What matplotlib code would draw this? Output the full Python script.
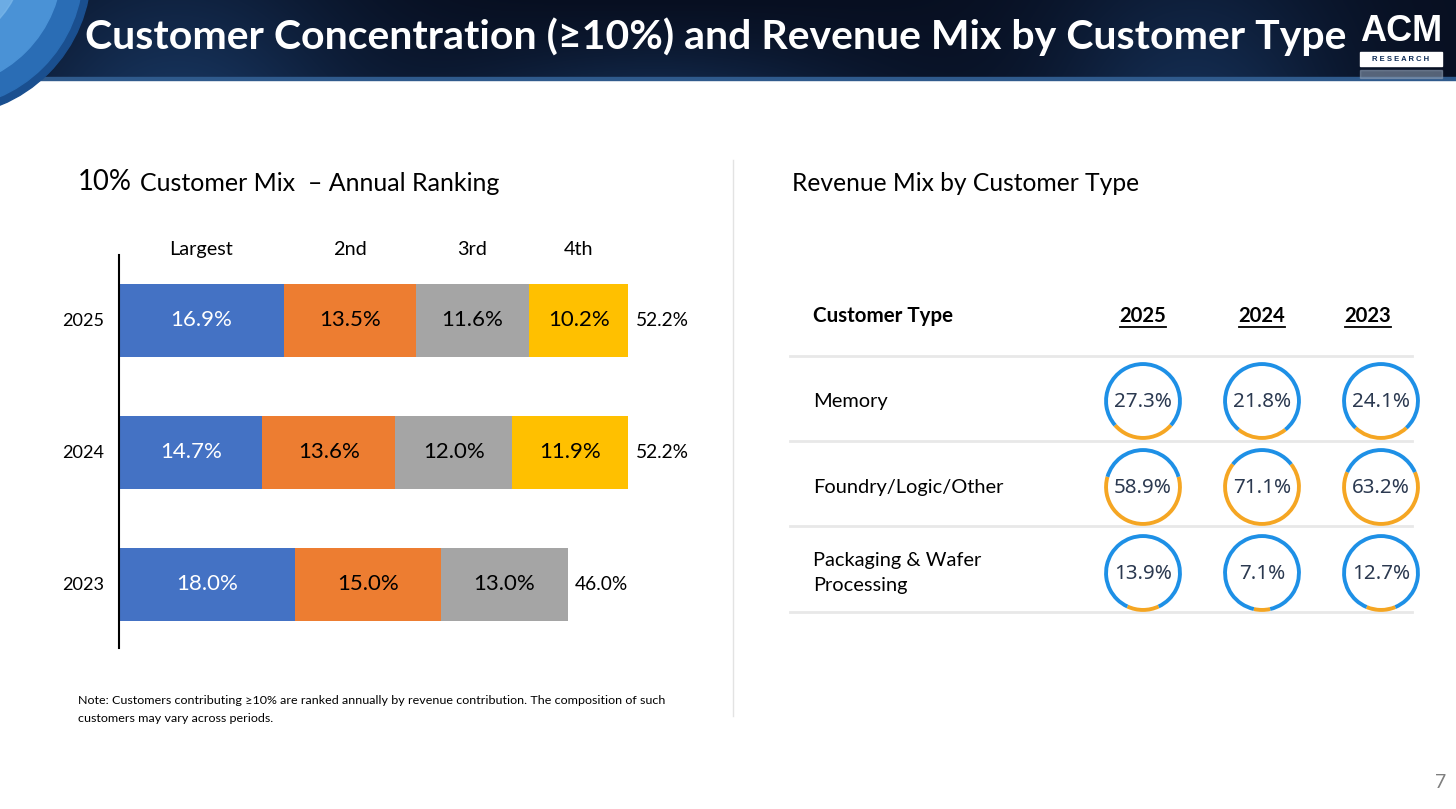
import matplotlib
matplotlib.use('Agg')
import matplotlib.pyplot as plt
import numpy as np
from matplotlib.patches import Circle, Rectangle

# ---------------- data ----------------
years = ['2025', '2024', '2023']
rank_labels = ['Largest', '2nd', '3rd', '4th']
largest = [16.9, 14.7, 18.0]
second = [13.5, 13.6, 15.0]
third = [11.6, 12.0, 13.0]
fourth = [10.2, 11.9, 0.0]
totals = [52.2, 52.2, 46.0]

cust_types = ['Memory', 'Foundry/Logic/Other', 'Packaging & Wafer\nProcessing']
table_years = ['2025', '2024', '2023']
memory = [27.3, 21.8, 24.1]
foundry = [58.9, 71.1, 63.2]
packaging = [13.9, 7.1, 12.7]

title = 'Customer Concentration (≥10%) and Revenue Mix by Customer Type'
note1 = 'Note: Customers contributing ≥10% are ranked annually by revenue contribution. The composition of such'
note2 = 'customers may vary across periods.'

# ---------------- style ----------------
FONT = ['Lato', 'DejaVu Sans']
FONT2 = ['Noto Sans', 'DejaVu Sans']
seg_colors = ['#4472C4', '#ED7D31', '#A5A5A5', '#FFC000']
seg_text = ['white', 'black', 'black', 'black']
ring_blue = '#1E90E6'
ring_orange = '#F5A623'

W, H = 1456, 809
fig = plt.figure(figsize=(W / 100, H / 100), dpi=100)
bg = fig.add_axes([0, 0, 1, 1])
bg.set_xlim(0, W)
bg.set_ylim(H, 0)
bg.axis('off')
r = fig.canvas.get_renderer()


def fit(s, target, family=FONT, weight='normal', base=20):
    t = bg.text(0, 0, s, fontsize=base, family=family, fontweight=weight)
    w = t.get_window_extent(renderer=r).width
    t.remove()
    return base * target / w


# header banner (smooth gradient decoration)
xs = np.linspace(0, 1, 400)
ys = np.linspace(0, 1, 40)
X, Y = np.meshgrid(xs, ys)
glow = 0.55 * np.exp(-((X - 0.12) / 0.12) ** 2) + 0.45 * np.exp(-((X - 0.82) / 0.1) ** 2) \
    + 0.35 * np.exp(-((X - 0.45) / 0.15) ** 2) * Y
glow = glow * (0.6 + 0.4 * Y)
c0 = np.array([0.03, 0.06, 0.13])
c1 = np.array([0.13, 0.30, 0.52])
img = c0[None, None, :] + (c1 - c0)[None, None, :] * np.clip(glow, 0, 1)[:, :, None]
bg.imshow(img, extent=(0, W, 80, 0), aspect='auto', zorder=0, interpolation='bilinear')
bg.add_patch(Rectangle((0, 77), W, 3, color='#2f5a8c', zorder=1))

# globe at top-left
bg.add_patch(Circle((-55, -30), 146, color='#1a4f8f', zorder=2))
bg.add_patch(Circle((-55, -30), 138, color='#2a6db5', zorder=2))
bg.add_patch(Circle((-62, -36), 124, color='#4a92d6', zorder=2))
bg.add_patch(Circle((-75, -48), 100, color='#7bb8ea', alpha=0.7, zorder=2))

# title
t = bg.text(85, 37, title, color='white', fontsize=fit(title, 1262, weight='bold'),
            fontweight='bold', family=FONT, ha='left', va='center', zorder=5)

# logo
LOGOF = ['Liberation Sans Narrow', 'Liberation Sans', 'DejaVu Sans']
bg.text(1401, 31, 'ACM', color='white', fontsize=fit('ACM', 82, LOGOF, 'bold'),
        fontweight='bold', family=LOGOF, ha='center', va='center', zorder=5)
bg.add_patch(Rectangle((1360, 52), 82, 14, color='white', zorder=5))
bg.text(1401, 59.5, 'R E S E A R C H', color='#0b2a55', fontsize=5.5, fontweight='bold',
        family=['Liberation Sans', 'DejaVu Sans'], ha='center', va='center', zorder=6)
bg.add_patch(Rectangle((1360, 70), 82, 8, color='#8a9ab0', alpha=0.6, zorder=5))

# section headings
bg.text(78, 182, '10%', fontsize=fit('10%', 54), family=FONT, ha='left', va='center',
        color='black')
s1 = 'Customer Mix  – Annual Ranking'
bg.text(140, 183, s1, fontsize=fit(s1, 362), family=FONT, ha='left', va='center', color='black')
s2 = 'Revenue Mix by Customer Type'
bg.text(792, 183, s2, fontsize=fit(s2, 348), family=FONT, ha='left', va='center', color='black')

# separator
bg.plot([733, 733], [160, 716], color='#e3e3e3', lw=1)

# note
nsize = fit(note1, 586)
bg.text(78, 701, note1, fontsize=nsize, family=FONT, ha='left', va='center', color='black')
bg.text(78, 718, note2, fontsize=nsize, family=FONT, ha='left', va='center', color='black')

# page number
bg.text(1441, 783, '7', fontsize=14, family=FONT, ha='center', va='center', color='#7f7f7f')

# ---------------- bar chart ----------------
px_per_pct = 9.76
ax_w = 600
ax = fig.add_axes([119 / W, 1 - 648 / H, ax_w / W, 393 / H])
ax.set_xlim(0, ax_w / px_per_pct)
ax.set_ylim(-64 / 132, 2 + 65 / 132)
ypos = [2, 1, 0]
series = [largest, second, third, fourth]
vsize = fit('14.7%', 62)
hsize = fit('Largest', 64)
tsize = fit('52.2%', 53)
ysize = fit('2024', 42)
left = [0.0, 0.0, 0.0]
for si, vals in enumerate(series):
    for yi, v in enumerate(vals):
        if v <= 0:
            continue
        ax.barh(ypos[yi], v, left=left[yi], height=73 / 132, color=seg_colors[si], zorder=2)
        ax.text(left[yi] + v / 2, ypos[yi], f'{v:.1f}%', ha='center', va='center',
                fontsize=vsize, family=FONT, color=seg_text[si], zorder=3)
        if yi == 0:
            ax.text(left[yi] + v / 2, 2 + 65 / 132 + 6 / 132, rank_labels[si], ha='center',
                    va='center', fontsize=hsize, family=FONT, color='black', clip_on=False)
    left = [left[i] + (vals[i] if vals[i] > 0 else 0) for i in range(3)]
for yi, tot in enumerate(totals):
    ax.text(tot + 0.75, ypos[yi], f'{tot:.1f}%', ha='left', va='center', fontsize=tsize,
            family=FONT, color='black')
ax.set_yticks(ypos)
ax.set_yticklabels(years, fontsize=ysize, family=FONT)
ax.tick_params(axis='y', length=0, pad=11)
ax.set_xticks([])
for s in ['top', 'right', 'bottom']:
    ax.spines[s].set_visible(False)
ax.spines['left'].set_linewidth(1.5)
ax.spines['left'].set_color('black')
ax.patch.set_alpha(0)

# ---------------- table ----------------
bg.text(813, 316, 'Customer Type', fontsize=fit('Customer Type', 140, weight='bold'),
        fontweight='bold', family=FONT, ha='left', va='center', color='black')
col_x = [1143, 1262, 1368]
ysz = fit('2025', 47, weight='bold')
for x, yr in zip(col_x, table_years):
    tt = bg.text(x, 316, yr, fontsize=ysz, fontweight='bold', family=FONT, ha='center',
                 va='center', color='black')
    bb = tt.get_window_extent(renderer=r)
    bg.plot([x - bb.width / 2, x + bb.width / 2], [327, 327], color='black', lw=1.3)

for yl in [356, 441, 526, 612]:
    bg.plot([790, 1412], [yl, yl], color='#e8e8e8', lw=2, zorder=1)

row_y = [401, 487, 573]
rsize = fit('Foundry/Logic/Other', 190)
for yc, lab in zip(row_y, cust_types):
    bg.text(813, yc, lab, fontsize=rsize, family=FONT, ha='left', va='center',
            color='black', linespacing=1.6)

ring_x = [1143, 1262, 1381]
rows = [memory, foundry, packaging]
csize = fit('58.9%', 58, FONT2)
D = 84
for yc, vals in zip(row_y, rows):
    for xc, v in zip(ring_x, vals):
        rax = fig.add_axes([(xc - D / 2) / W, 1 - (yc + D / 2) / H, D / W, D / H])
        rax.pie([v, 100 - v], colors=[ring_orange, ring_blue], startangle=270 - v * 1.8,
                counterclock=True, radius=1.0,
                wedgeprops=dict(width=0.1, edgecolor='none'))
        rax.set_xlim(-1.08, 1.08)
        rax.set_ylim(-1.08, 1.08)
        rax.set_aspect('equal')
        rax.axis('off')
        rax.text(0, -0.03, f'{v:.1f}%', ha='center', va='center', fontsize=csize,
                 family=FONT2, color='#2b3950')

fig.savefig('out.png', dpi=100)
